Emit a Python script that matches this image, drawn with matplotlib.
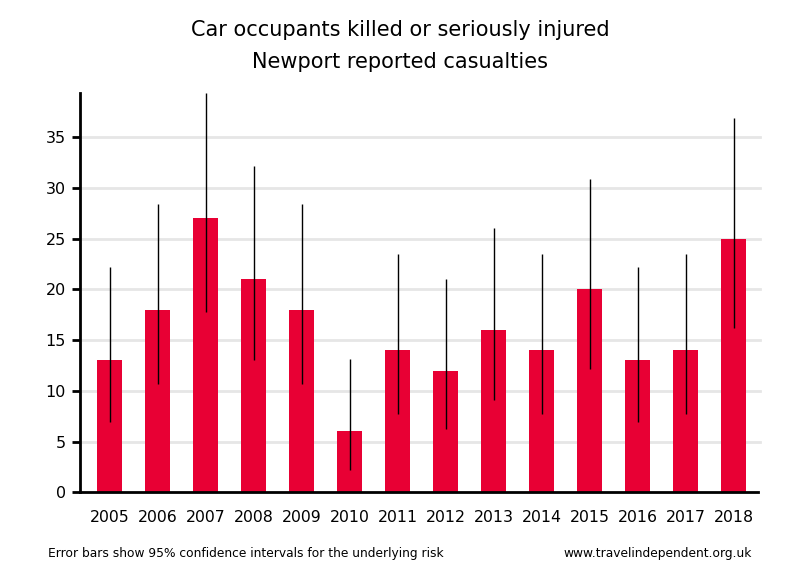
import matplotlib
matplotlib.use("Agg")
import matplotlib.pyplot as plt
import numpy as np

years = ["2005", "2006", "2007", "2008", "2009", "2010", "2011",
         "2012", "2013", "2014", "2015", "2016", "2017", "2018"]
casualties = [13, 18, 27, 21, 18, 6, 14, 12, 16, 14, 20, 13, 14, 25]
ci_low = [6.9, 10.7, 17.8, 13.0, 10.7, 2.2, 7.7, 6.2, 9.1, 7.7, 12.2, 6.9, 7.7, 16.2]
ci_high = [22.2, 28.4, 39.3, 32.1, 28.4, 13.1, 23.5, 21.0, 26.0, 23.5, 30.9, 22.2, 23.5, 36.9]

plt.rcParams['font.family'] = ['DejaVu Sans']

fig = plt.figure(figsize=(8, 5.8), dpi=100)
ax = fig.add_axes([0.10, 0.151, 0.8475, 0.688])

x = np.arange(len(years))
ax.bar(x, casualties, width=0.52, color="#e80034", zorder=2)
ax.vlines(x, ci_low, ci_high, color="black", linewidth=1.0, zorder=3)

ax.set_xlim(-0.615, 13.51)
ax.set_ylim(0, 39.3)
ax.set_yticks([0, 5, 10, 15, 20, 25, 30, 35])
ax.set_xticks(x)
ax.set_xticklabels(years)

for yv in [5, 10, 15, 20, 25, 30, 35]:
    ax.axhline(yv, color="#e6e6e6", linewidth=2, zorder=1, xmax=1.003, clip_on=False)

for s in ["top", "right"]:
    ax.spines[s].set_visible(False)
ax.spines["left"].set_linewidth(2)
ax.spines["bottom"].set_linewidth(2)
ax.tick_params(axis="y", length=6, width=2, labelsize=11.5, pad=4)
ax.tick_params(axis="x", length=0, labelsize=11.3, pad=13)

fig.text(0.5, 0.948, "Car occupants killed or seriously injured", ha="center", va="center", fontsize=15)
fig.text(0.5, 0.893, "Newport reported casualties", ha="center", va="center", fontsize=15)

fig.text(0.06, 0.045, "Error bars show 95% confidence intervals for the underlying risk", ha="left", va="center", fontsize=8.8)
fig.text(0.94, 0.045, "www.travelindependent.org.uk", ha="right", va="center", fontsize=8.8)

fig.savefig("out.png", dpi=100)
